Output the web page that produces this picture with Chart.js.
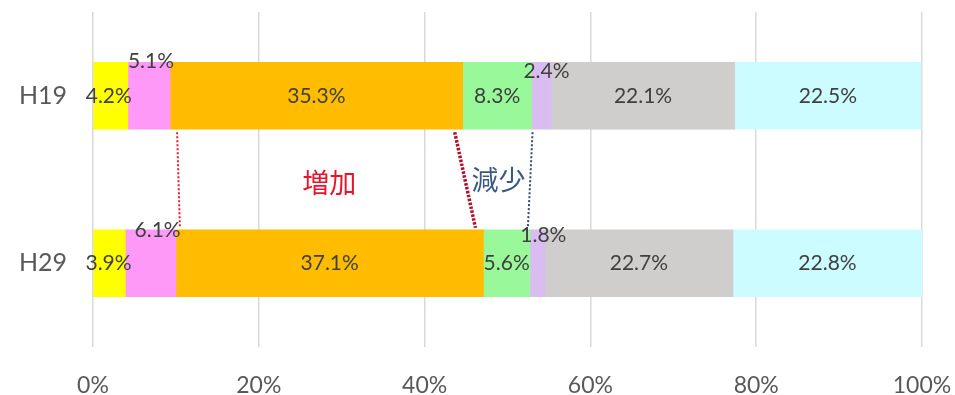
<!DOCTYPE html>
<html>
<head>
<meta charset="utf-8">
<script src="https://cdn.jsdelivr.net/npm/chart.js@4/dist/chart.umd.min.js"></script>
<style>
  html, body { margin: 0; padding: 0; background: #fff; }
  #wrap { width: 955px; height: 395px; position: relative; }
</style>
</head>
<body>
<div id="wrap"><canvas id="c"></canvas></div>
<script>
// 年度別の構成比（%）
const years = ['H19', 'H29'];
const seg1 = [4.2, 3.9];
const seg2 = [5.1, 6.1];
const seg3 = [35.3, 37.1];
const seg4 = [8.3, 5.6];
const seg5 = [2.4, 1.8];
const seg6 = [22.1, 22.7];
const seg7 = [22.5, 22.8];
const xTicks = ['0%', '20%', '40%', '60%', '80%', '100%'];

const colors = ['#FFFF00', '#FF99F8', '#FFBC00', '#99F899', '#D9BDF0', '#D0CDCD', '#CCFCFF'];

// ラベルの位置調整 [dx, dy]（小さい区間は棒の上へ逃がす）
const labelShift = {
  '0,0': [-2, 0], '1,0': [2, -35], '4,0': [5, -25],
  '0,1': [-1, 0], '1,1': [7, -33], '4,1': [6, -28]
};

const datasets = [seg1, seg2, seg3, seg4, seg5, seg6, seg7].map((d, i) => ({
  data: d,
  backgroundColor: colors[i],
  borderWidth: 0,
  barThickness: 67
}));

const FONT = 'Lato, "Noto Sans", sans-serif';

const labelPlugin = {
  id: 'segLabels',
  afterDatasetsDraw(chart) {
    const ctx = chart.ctx;
    ctx.save();
    ctx.font = '21px ' + FONT;
    ctx.fillStyle = '#404040';
    ctx.textAlign = 'center';
    ctx.textBaseline = 'middle';
    chart.data.datasets.forEach((ds, i) => {
      chart.getDatasetMeta(i).data.forEach((bar, j) => {
        const s = labelShift[i + ',' + j] || [0, 0];
        const cx = (bar.x + bar.base) / 2;
        ctx.fillText(ds.data[j].toFixed(1) + '%', cx + s[0], bar.y + s[1]);
      });
    });
    ctx.restore();
  }
};

// 増加・減少を示す点線と注記
const notePlugin = {
  id: 'notes',
  afterDatasetsDraw(chart) {
    const ctx = chart.ctx;
    const xs = chart.scales.x;
    const cum = (n, j) => datasets.slice(0, n).reduce((a, d) => a + d.data[j], 0);
    const m0 = chart.getDatasetMeta(0).data;
    const yTop = m0[0].y + 67 / 2 + 3;
    const yBot = m0[1].y - 67 / 2 - 2;

    const line = (x1, x2, color, w, dash) => {
      ctx.save();
      ctx.strokeStyle = color;
      ctx.lineWidth = w;
      ctx.setLineDash(dash);
      ctx.beginPath();
      ctx.moveTo(x1, yTop);
      ctx.lineTo(x2, yBot);
      ctx.stroke();
      ctx.restore();
    };
    line(xs.getPixelForValue(cum(2, 0)) + 7, xs.getPixelForValue(cum(2, 1)) + 4, '#e0202c', 2, [2, 2]);
    line(xs.getPixelForValue(cum(3, 0)) - 8, xs.getPixelForValue(cum(3, 1)) - 8, '#b0102a', 3.5, [2.5, 1.5]);
    line(xs.getPixelForValue(cum(4, 0)) + 1, xs.getPixelForValue(cum(4, 1)) - 2, '#2c4a78', 2, [2, 2]);

    ctx.save();
    ctx.font = '27px "Noto Sans CJK JP", sans-serif';
    ctx.textAlign = 'center';
    ctx.textBaseline = 'middle';
    ctx.fillStyle = '#e8142c';
    ctx.fillText('増加', xs.getPixelForValue(28.5), (yTop + yBot) / 2 + 3);
    ctx.fillStyle = '#3a5a82';
    ctx.fillText('減少', xs.getPixelForValue(48.9), (yTop + yBot) / 2);
    ctx.restore();
  }
};

// 目盛ラベル由来の余白を無効にし、描画領域を padding だけで決める
const noScalePad = s => {
  s.paddingTop = 0; s.paddingBottom = 0; s.paddingLeft = 0; s.paddingRight = 0;
};

new Chart(document.getElementById('c'), {
  type: 'bar',
  data: { labels: years, datasets: datasets },
  options: {
    indexAxis: 'y',
    responsive: true,
    maintainAspectRatio: false,
    animation: false,
    layout: { padding: { top: 12, right: 33, left: 0, bottom: 0 } },
    plugins: { legend: { display: false }, tooltip: { enabled: false } },
    scales: {
      x: {
        stacked: true,
        min: 0,
        max: 100,
        border: { display: false },
        grid: { color: '#d9d9d9', lineWidth: 1.5, drawTicks: false },
        ticks: {
          stepSize: 20,
          padding: 25,
          color: '#595959',
          font: { family: FONT, size: 23 },
          callback: (v, i) => xTicks[i]
        },
        afterFit(s) { s.height = 48; noScalePad(s); }
      },
      y: {
        stacked: true,
        border: { display: false },
        grid: { display: false, drawTicks: false },
        ticks: {
          color: '#595959',
          padding: 26,
          font: { family: FONT, size: 25 }
        },
        afterFit(s) { s.width = 93; noScalePad(s); }
      }
    }
  },
  plugins: [labelPlugin, notePlugin]
});
</script>
</body>
</html>
